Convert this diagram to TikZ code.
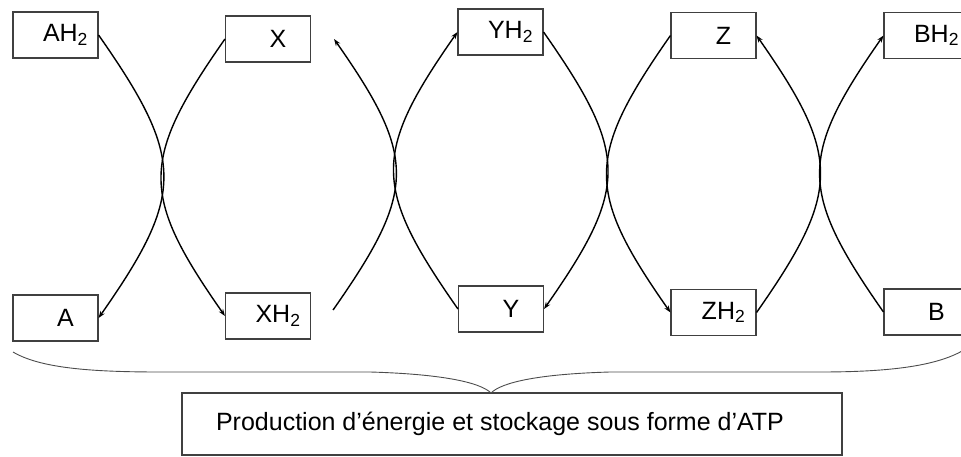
\documentclass[tikz,border=0pt]{standalone}
\usepackage{fontspec}
\setmainfont{Liberation Sans}
\usetikzlibrary{positioning, arrows.meta}

\begin{document}
\begin{tikzpicture}[
  x=1pt, y=1pt,
  box/.style={draw=black!75, line width=1.1pt, minimum width=85pt, minimum height=46pt, inner sep=0pt,
    font=\fontsize{25}{29}\selectfont, execute at begin node={\hspace*{20pt}}},
  bigbox/.style={draw=black!75, line width=1.1pt, minimum width=660pt, minimum height=62pt, inner sep=0pt,
    font=\fontsize{25}{29}\selectfont, execute at end node={\hspace*{24pt}}},
  arr/.style={-{Stealth[length=7pt, width=5pt]}, line width=1.4pt, looseness=1.37},
  bracel/.style={draw=black!70, line width=0.9pt}
]
\useasboundingbox (0,0) rectangle (961,456);

% Top row
\node[box] (AH2) at (55.5,421) {AH\textsubscript{2}};
\node[box] (X) at (268,417) {X};
\node[box] (YH2) at (500.5,424) {YH\textsubscript{2}};
\node[box] (Z) at (713.5,420.5) {Z};
\node[box] (BH2) at (926.5,420.5) {BH\textsubscript{2}};

% Bottom row
\node[box] (A) at (55.5,138) {A};
\node[box] (XH2) at (268,140) {XH\textsubscript{2}};
\node[box] (Y) at (501,147) {Y};
\node[box] (ZH2) at (713.5,143.5) {ZH\textsubscript{2}};
\node[box] (B) at (926.5,144) {B};

% ATP box
\node[bigbox] (atp) at (512,32) {Production d’énergie et stockage sous forme d’ATP};

% First pair
\draw[arr] (AH2.east) to[out=-55, in=55] (A.east);
\draw[arr] (X.west) to[out=-125, in=125] (XH2.west);

% Second pair
\coordinate (xh2out) at ([xshift=22pt, yshift=6pt]XH2.east);
\coordinate (xin) at ([xshift=23pt]X.east);
\draw[arr] (xh2out) to[out=55, in=-55] (xin);
\draw[arr] (Y.west) to[out=125, in=-125] (YH2.west);

% Third pair
\draw[arr] (YH2.east) to[out=-55, in=55] (Y.east);
\draw[arr] (Z.west) to[out=-125, in=125] (ZH2.west);

% Fourth pair
\draw[arr] (ZH2.east) to[out=55, in=-55] (Z.east);
\draw[arr] (B.west) to[out=125, in=-125] (BH2.west);

% Brace
\draw[bracel] (13,104) .. controls (40,88) and (90,84) .. (160,84) -- (370,84)
  .. controls (440,82) and (480,74) .. (491,63)
  .. controls (502,74) and (540,82) .. (610,84) -- (820,84)
  .. controls (890,84) and (940,90) .. (967,108);

\end{tikzpicture}
\end{document}
